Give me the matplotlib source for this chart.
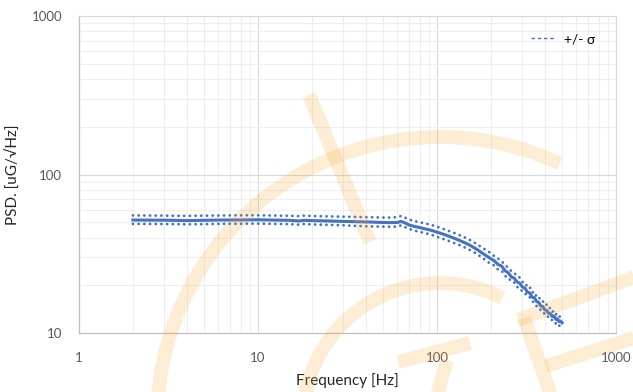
import matplotlib
matplotlib.use("Agg")
import matplotlib.pyplot as plt
import numpy as np
from matplotlib.lines import Line2D

plt.rcParams['font.family'] = ['Lato', 'DejaVu Sans']

# データ
freq = [2, 3, 4, 5, 6, 8, 10, 12, 15, 17, 18, 20, 25, 30, 35, 40, 45, 50, 55, 60,
        63, 66, 70, 75, 80, 85, 92, 100, 110, 120, 130, 140, 150, 165, 180,
        200, 210, 220, 230, 240, 250, 260, 270, 280, 290, 300, 310, 320, 330, 340,
        350, 360, 370, 380, 390, 400, 410, 420, 430, 440, 450, 460, 470, 480, 490, 500]
psd_mean = [51.6, 51.5, 51.2, 51.4, 51.6, 51.7, 51.8, 51.6, 51.4, 50.9, 51.4, 51.2,
            50.9, 50.6, 50.4, 50.2, 50.0, 49.8, 49.7, 49.8, 50.6, 49.6, 48.0, 47.0,
            46.3, 45.5, 44.6, 43.3, 41.8, 40.3, 38.9, 37.5, 36.2, 34.0, 31.8,
            29.4, 28.4, 27.0, 26.4, 24.7, 24.0, 22.6, 22.2, 21.0, 20.6, 19.5, 19.2,
            18.1, 17.9, 16.8, 16.7, 15.8, 15.6, 14.8, 14.7, 14.0, 13.9, 13.3, 13.3,
            12.7, 12.8, 12.2, 12.3, 11.8, 11.9, 11.6]
psd_upper = [55.2, 55.0, 54.8, 55.0, 55.1, 55.3, 55.3, 55.1, 54.9, 54.6, 55.0, 54.7,
             54.4, 54.2, 54.0, 53.8, 53.7, 53.5, 53.5, 53.8, 54.8, 53.6, 51.9, 50.8,
             50.0, 49.2, 48.3, 46.8, 45.1, 43.5, 42.0, 40.5, 39.1, 36.7, 34.4,
             31.9, 30.4, 29.4, 28.3, 26.9, 25.8, 24.6, 24.0, 22.7, 22.4, 21.0, 20.9,
             19.4, 19.5, 18.0, 18.2, 16.9, 17.0, 15.9, 15.9, 15.0, 15.1, 14.3, 14.4,
             13.6, 13.8, 13.1, 13.2, 12.6, 12.8, 12.4]
psd_lower = [48.8, 48.7, 48.5, 48.6, 48.8, 48.9, 49.0, 48.8, 48.6, 48.2, 48.7, 48.4,
             48.1, 47.8, 47.4, 47.1, 47.0, 46.9, 46.8, 46.9, 47.8, 46.6, 45.3, 44.2,
             43.5, 42.7, 41.9, 40.4, 39.0, 37.6, 36.3, 35.0, 33.8, 31.8, 29.7,
             27.2, 26.6, 25.0, 24.7, 22.9, 22.5, 21.0, 20.8, 19.5, 19.3, 18.2, 17.9,
             16.9, 16.8, 15.8, 15.6, 14.8, 14.6, 13.9, 13.8, 13.1, 13.1, 12.5, 12.5,
             12.0, 12.0, 11.5, 11.6, 11.1, 11.2, 10.9]

xticks = [1, 10, 100, 1000]
yticks = [10, 100, 1000]

blue = "#4472C4"
fig = plt.figure(figsize=(6.33, 3.92), dpi=100)
ax = fig.add_axes([79/633, 1-333/392, 537/633, 317/392])

ax.plot(freq, psd_mean, color=blue, lw=2.2, zorder=3)
ax.plot(freq, psd_upper, color=blue, lw=2.0, linestyle=(0, (0.05, 2.0)),
        dash_capstyle="round", zorder=3)
ax.plot(freq, psd_lower, color=blue, lw=2.0, linestyle=(0, (0.05, 2.0)),
        dash_capstyle="round", zorder=3)

ax.set_xscale("log")
ax.set_yscale("log")
ax.set_xlim(1, 1000)
ax.set_ylim(10, 1000)
ax.set_xticks(xticks, [str(v) for v in xticks])
ax.set_yticks(yticks, [str(v) for v in yticks])
ax.tick_params(which="both", length=0, labelsize=9.5, labelcolor="#595959")
ax.tick_params(axis="x", pad=14)
ax.tick_params(axis="y", pad=12)

ax.grid(which="major", color="#D9D9D9", lw=0.8)
ax.grid(which="minor", color="#EFEFEF", lw=0.8)
ax.set_axisbelow(True)
for s in ["top", "right"]:
    ax.spines[s].set_color("#D9D9D9")
    ax.spines[s].set_linewidth(0.8)
for s in ["left", "bottom"]:
    ax.spines[s].set_color("#BFBFBF")
    ax.spines[s].set_linewidth(0.9)

ax.set_xlabel("Frequency [Hz]", fontsize=11, color="#262626", labelpad=6)
ax.set_ylabel("PSD. [uG/√Hz]", fontsize=11, color="#262626", labelpad=8)

handle = Line2D([], [], color=blue, lw=1, linestyle=(0, (2.5, 2)))
ax.legend([handle], ["+/- σ"], loc="upper right", frameon=False, fontsize=10,
          handlelength=1.8, handletextpad=0.6, bbox_to_anchor=(0.985, 0.985))

# 透かしロゴ (半透明で上に重ねる, ピクセル座標)
wm = "#F7A52A"
def px(xs, ys):
    return [x/633 for x in xs], [1 - y/392 for y in ys]

def wm_line(xs, ys):
    fx, fy = px(xs, ys)
    fig.add_artist(Line2D(fx, fy, color=wm, alpha=0.2, lw=10, solid_capstyle="butt",
                          transform=fig.transFigure, zorder=10))

def wm_arc(cx, cy, r, a0, a1):
    t = np.radians(np.linspace(a0, a1, 100))
    wm_line(cx + r*np.cos(t), cy - r*np.sin(t))

wm_arc(440, 420, 283, 65, 192)
wm_arc(440, 420, 137, 63, 195)
wm_line([309, 370], [95, 242])
wm_line([524, 551], [318, 395])
wm_line([518, 640], [320, 275])
wm_line([546, 640], [366, 336])
wm_line([398, 470], [362, 343])
wm_line([447, 437], [360, 395])

fig.savefig("out.png", dpi=100)
